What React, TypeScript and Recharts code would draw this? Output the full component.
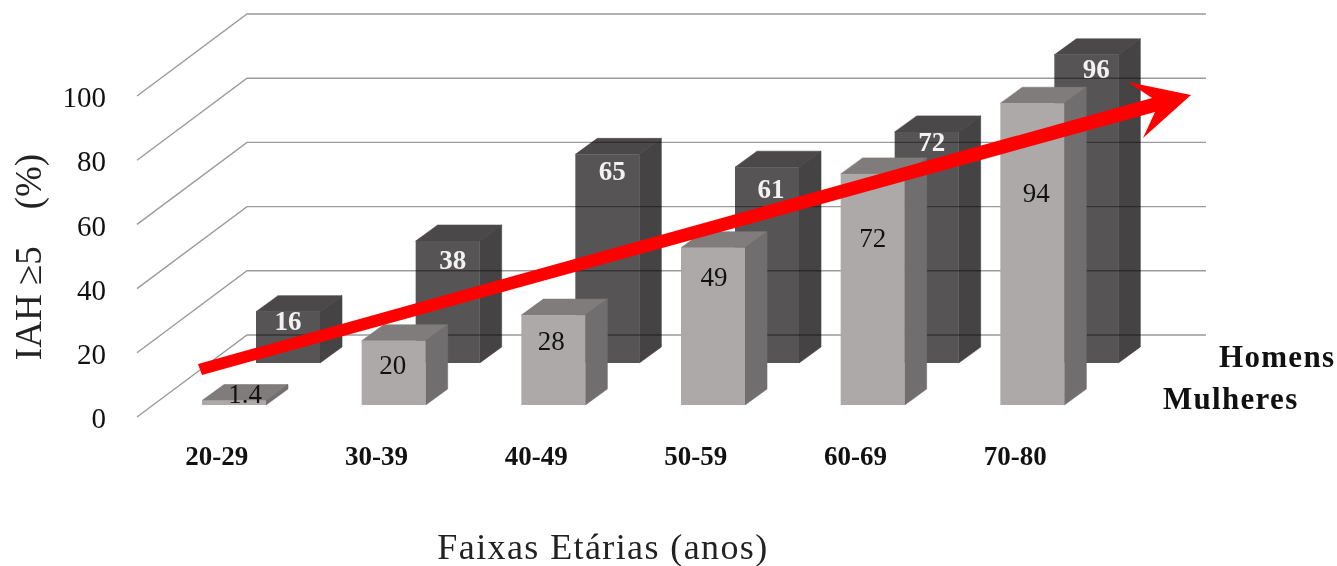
import React from 'react';
import {
  Bar,
  BarChart,
  CartesianGrid,
  LabelList,
  XAxis,
  YAxis,
} from 'recharts';

const faixas = ['20-29', '30-39', '40-49', '50-59', '60-69', '70-80'];
const mulheres = [1.4, 20, 28, 49, 72, 94];
const homens = [16, 38, 65, 61, 72, 96];
const yTicks = [0, 20, 40, 60, 80, 100];

const tabela = faixas.map((faixa, i) => ({
  faixa,
  mulheres: mulheres[i],
  homens: homens[i],
}));

// label nudges from the centre of the front top edge of each bar
const mulheresNudge = [[11, -7], [-1, 24], [-2, 25], [1, 29], [0, 64], [4, 89]];
const homensNudge = [[0, 9], [5, 19], [5, 16], [4, 21], [5, 10], [10, 14]];

const SERIF = '"Liberation Serif", serif';
const W = 1337;
const H = 566;
const PLOT_LEFT = 137;
const PLOT_TOP = 14;
const PLOT_BOTTOM = 417;
const PLOT_RIGHT = 1206;

// floor and wall perspective
const WALL_DX = 110;
const WALL_DY = 82;
const BAR_DX = 22;
const BAR_DY = 16;
// women's row stands this far behind the front edge of the floor
const ROW_GAP = 12;

const box = (front: string, top: string, side: string) => (props: any) => {
  const { x, y, width, height } = props;
  const r = x + width;
  const b = y + height;
  return (
    <g>
      <path
        d={`M${x},${y}L${x + BAR_DX},${y - BAR_DY}L${r + BAR_DX},${y - BAR_DY}L${r},${y}Z`}
        fill={top}
        stroke={top}
        strokeWidth={0.6}
      />
      <path
        d={`M${r},${y}L${r + BAR_DX},${y - BAR_DY}L${r + BAR_DX},${b - BAR_DY}L${r},${b}Z`}
        fill={side}
        stroke={side}
        strokeWidth={0.6}
      />
      <rect x={x} y={y} width={width} height={height} fill={front} />
    </g>
  );
};

const barLabel = (nudge: number[][], color: string, bold: boolean) => (props: any) => {
  const { x, y, width, value, index } = props;
  const [dx, dy] = nudge[index];
  return (
    <text
      x={x + width / 2 + dx}
      y={y + dy}
      dy="0.35em"
      textAnchor="middle"
      fontFamily={SERIF}
      fontSize={27}
      fontWeight={bold ? 700 : 400}
      fill={color}
    >
      {value}
    </text>
  );
};

const yTick = (props: any) => {
  const { x, y, payload } = props;
  return (
    <text x={x} y={y + ROW_GAP + 1} dy="0.35em" textAnchor="end" fontFamily={SERIF} fontSize={29} fill="#111">
      {payload.value}
    </text>
  );
};

// wall line: diagonal up the side wall from the axis tick, then across the back wall
const wallLine = (props: any) => {
  const { x1, x2, y1, key } = props;
  // the grid also hands over the plot's top and bottom edges, which are not ticks
  if (y1 <= PLOT_TOP || y1 >= PLOT_BOTTOM) return <g key={key} />;
  const y = y1 + ROW_GAP;
  return (
    <path
      key={key}
      d={`M${x1},${y}L${x1 + WALL_DX},${y - WALL_DY}L${x2},${y - WALL_DY}`}
      fill="none"
      stroke="#9b9b9b"
      strokeWidth={1.4}
      style={{ mixBlendMode: 'multiply' }}
    />
  );
};

export default function App() {
  return (
    <div style={{ position: 'absolute', left: 0, top: 0, width: W, height: H, background: '#fff' }}>
      <BarChart
        width={W}
        height={H}
        data={tabela}
        barSize={64}
        margin={{ top: PLOT_TOP, right: W - PLOT_RIGHT, bottom: H - PLOT_BOTTOM - 60, left: 0 }}
      >
        {/* category labels on the front edge of the floor */}
        <XAxis
          xAxisId="labels"
          dataKey="faixa"
          height={60}
          padding={{ left: 0, right: WALL_DX + 1 }}
          axisLine={false}
          tickLine={false}
          tickSize={0}
          tickMargin={29}
          tick={{ fontFamily: SERIF, fontSize: 27, fontWeight: 700, fill: '#111' }}
          interval={0}
        />
        <XAxis xAxisId="frente" dataKey="faixa" hide height={0} padding={{ left: 17, right: 94 }} />
        <XAxis xAxisId="fundo" dataKey="faixa" hide height={0} padding={{ left: 71, right: 40 }} />

        <YAxis
          yAxisId="frenteY"
          width={PLOT_LEFT}
          domain={[0, 100]}
          ticks={yTicks}
          interval={0}
          padding={{ top: 70, bottom: ROW_GAP }}
          axisLine={false}
          tickLine={false}
          tickSize={0}
          tickMargin={31}
          tick={yTick}
        />
        <YAxis yAxisId="fundoY" hide width={0} domain={[0, 100]} padding={{ top: 28, bottom: 54 }} />

        <Bar
          dataKey="homens"
          xAxisId="fundo"
          yAxisId="fundoY"
          zIndex={100}
          shape={box('#575455', '#4b4849', '#454344')}
          isAnimationActive={false}
        >
          <LabelList dataKey="homens" content={barLabel(homensNudge, '#f2f2f2', true)} />
        </Bar>

        <CartesianGrid
          xAxisId="labels"
          yAxisId="frenteY"
          zIndex={200}
          vertical={false}
          horizontal={wallLine}
        />

        <Bar
          dataKey="mulheres"
          xAxisId="frente"
          yAxisId="frenteY"
          zIndex={300}
          shape={box('#ada9a9', '#807c7b', '#706e6e')}
          isAnimationActive={false}
        >
          <LabelList dataKey="mulheres" content={barLabel(mulheresNudge, '#111', false)} />
        </Bar>

        <text x={1219} y={367} fontFamily={SERIF} fontSize={31} fontWeight={700} letterSpacing={1.3} fill="#111">Homens</text>
        <text x={1163} y={409} fontFamily={SERIF} fontSize={31} fontWeight={700} letterSpacing={1.3} fill="#111">Mulheres</text>
        <text x={603} y={559} textAnchor="middle" fontFamily={SERIF} fontSize={36} letterSpacing={1.4} fill="#222">
          Faixas Etárias (anos)
        </text>
        <text
          transform="translate(41,257) rotate(-90)"
          textAnchor="middle"
          fontFamily={SERIF}
          fontSize={37}
          fill="#222"
        >
          {'IAH ≥5\u00a0\u00a0\u00a0\u00a0(%)'}
        </text>
      </BarChart>

      {/* trend arrow sits over the bars */}
      <svg width={W} height={H} style={{ position: 'absolute', left: 0, top: 0, pointerEvents: 'none' }}>
        <path d="M198,364L1152,98L1128,82L1191,95L1143,138L1155,112L202,375Z" fill="#ff0000" />
      </svg>
    </div>
  );
}
